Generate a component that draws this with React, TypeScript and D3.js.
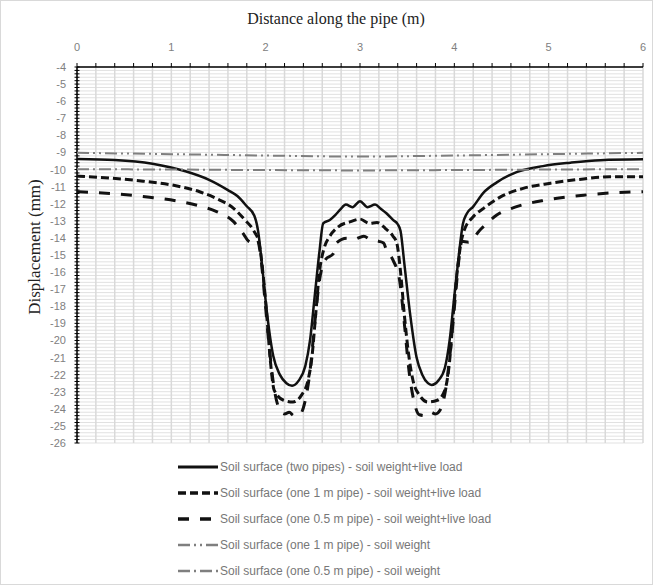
import * as d3 from 'd3';
import React from 'react';

const width = 653;
const height = 585;
const margin = { top: 67, right: 10, bottom: 142, left: 77 };

// axis ticks
const xTicks = [0, 1, 2, 3, 4, 5, 6];
const yTicks = d3.range(-4, -27, -1);

// Soil surface (two pipes) - soil weight+live load
const twoPipesX = [0, 0.4, 0.8, 1.15, 1.4, 1.6, 1.7, 1.8, 1.88, 1.92, 1.96, 2.01, 2.08, 2.15, 2.22, 2.28, 2.35, 2.42, 2.47, 2.52, 2.57, 2.61, 2.68, 2.74, 2.79, 2.85, 2.92, 3.0, 3.08, 3.16, 3.22, 3.28, 3.35, 3.4, 3.43, 3.47, 3.53, 3.6, 3.66, 3.72, 3.76, 3.83, 3.9, 3.95, 4.0, 4.05, 4.09, 4.13, 4.2, 4.31, 4.45, 4.66, 4.94, 5.23, 5.55, 6.0];
const twoPipesY = [-9.38, -9.44, -9.66, -10.1, -10.6, -11.2, -11.55, -12.15, -12.7, -13.6, -15.5, -18.2, -20.9, -22.0, -22.5, -22.65, -22.35, -21.5, -20.0, -17.4, -14.8, -13.15, -12.95, -12.65, -12.35, -12.05, -12.2, -11.85, -12.2, -12.05, -12.3, -12.56, -12.95, -13.2, -13.6, -15.5, -18.4, -21.0, -22.0, -22.5, -22.6, -22.35, -21.6, -20.0, -17.4, -14.9, -13.2, -12.6, -12.17, -11.35, -10.75, -10.15, -9.8, -9.6, -9.45, -9.4];

// Soil surface (one 1 m pipe) - soil weight+live load
const oneMeterX = [0, 0.35, 0.7, 1.06, 1.3, 1.48, 1.66, 1.78, 1.87, 1.93, 1.97, 2.01, 2.05, 2.09, 2.19, 2.29, 2.38, 2.45, 2.49, 2.53, 2.57, 2.62, 2.68, 2.77, 2.9, 3.0, 3.1, 3.18, 3.27, 3.35, 3.39, 3.43, 3.47, 3.52, 3.56, 3.63, 3.72, 3.82, 3.9, 3.95, 3.99, 4.03, 4.07, 4.1, 4.2, 4.31, 4.49, 4.73, 5.02, 5.37, 5.65, 6.0];
const oneMeterY = [-10.38, -10.5, -10.68, -10.96, -11.3, -11.7, -12.27, -12.95, -13.55, -14.3, -16.0, -18.4, -21.2, -22.9, -23.5, -23.6, -23.2, -22.3, -21.0, -18.5, -16.0, -14.6, -13.9, -13.35, -13.05, -12.9, -13.15, -13.1, -13.45, -13.9, -14.3, -16.0, -18.5, -21.0, -22.3, -23.2, -23.6, -23.5, -22.9, -21.2, -18.4, -16.0, -14.3, -13.63, -12.76, -12.27, -11.6, -11.1, -10.8, -10.55, -10.42, -10.42];

// Soil surface (one 0.5 m pipe) - soil weight+live load
const halfMeterX = [0, 0.35, 0.77, 1.06, 1.3, 1.48, 1.66, 1.76, 1.82, 1.87, 1.91, 1.95, 1.99, 2.04, 2.09, 2.15, 2.2, 2.25, 2.3, 2.36, 2.42, 2.47, 2.52, 2.57, 2.63, 2.72, 2.75, 2.86, 2.93, 3.04, 3.11, 3.2, 3.25, 3.28, 3.35, 3.42, 3.47, 3.52, 3.57, 3.63, 3.7, 3.75, 3.8, 3.85, 3.91, 3.96, 4.01, 4.05, 4.08, 4.15, 4.27, 4.45, 4.66, 4.98, 5.37, 5.72, 6.0];
const halfMeterY = [-11.3, -11.4, -11.62, -11.84, -12.13, -12.46, -13.05, -13.73, -14.2, -14.3, -14.1, -15.2, -17.5, -20.5, -22.8, -24.07, -24.3, -24.2, -24.4, -24.35, -23.5, -21.8, -19.0, -16.5, -15.3, -14.9, -14.3, -14.02, -14.1, -13.9, -14.1, -14.2, -14.3, -14.7, -15.3, -16.5, -19.0, -21.8, -23.5, -24.35, -24.4, -24.2, -24.3, -24.07, -22.8, -20.5, -17.5, -15.2, -14.2, -14.25, -13.55, -12.66, -12.17, -11.78, -11.5, -11.35, -11.3];

// Soil surface (one 1 m pipe) - soil weight
const oneMeterSoilX = [0, 1, 2, 3, 4, 5, 6];
const oneMeterSoilY = [-9.02, -9.1, -9.18, -9.24, -9.18, -9.1, -9.02];

// Soil surface (one 0.5 m pipe) - soil weight
const halfMeterSoilX = [0, 1, 2, 3, 4, 5, 6];
const halfMeterSoilY = [-9.98, -10.0, -10.03, -10.05, -10.03, -10.0, -9.98];

const seriesNames = [
  'Soil surface (two pipes) - soil weight+live load',
  'Soil surface (one 1 m pipe) - soil weight+live load',
  'Soil surface (one 0.5 m pipe) - soil weight+live load',
  'Soil surface (one 1 m pipe) - soil weight',
  'Soil surface (one 0.5 m pipe) - soil weight',
];

const series = [
  { name: seriesNames[0], xs: twoPipesX, ys: twoPipesY, color: '#111', w: 2.5, dash: '' },
  { name: seriesNames[1], xs: oneMeterX, ys: oneMeterY, color: '#111', w: 3, dash: '8,4' },
  { name: seriesNames[2], xs: halfMeterX, ys: halfMeterY, color: '#111', w: 3, dash: '11,11' },
  { name: seriesNames[3], xs: oneMeterSoilX, ys: oneMeterSoilY, color: '#7f7f7f', w: 2, dash: '12,4,2,4,2,4' },
  { name: seriesNames[4], xs: halfMeterSoilX, ys: halfMeterSoilY, color: '#7f7f7f', w: 2, dash: '12,4,2,4' },
];

const App = () => {
  const x = d3.scaleLinear().domain([0, 6]).range([margin.left, width - margin.right]);
  const y = d3.scaleLinear().domain([-4, -26]).range([margin.top, height - margin.bottom]);

  const hGrid = d3.range(0, 111).map(i => -4 - i * 0.2);
  const vGrid = d3.range(0, 31).map(i => i * 0.2);

  const line = d3.line<[number, number]>()
    .x(d => x(d[0]))
    .y(d => y(d[1]))
    .curve(d3.curveMonotoneX);

  const tickFont = 'Liberation Sans, Arial, sans-serif';
  const titleFont = 'Liberation Serif, Times New Roman, serif';

  return (
    <svg width={width} height={height} style={{ position: 'absolute', left: 0, top: 0, background: '#fff' }}>
      <rect x={0.5} y={0.5} width={width - 1} height={height - 1} fill="#fff" stroke="#d9d9d9" />

      {/* grid */}
      {hGrid.map((v, i) => (
        <line key={'h' + i} x1={x(0)} x2={x(6)} y1={y(v)} y2={y(v)} stroke="#e1e1e1" strokeWidth={1} />
      ))}
      {vGrid.map((v, i) => (
        <line key={'v' + i} x1={x(v)} x2={x(v)} y1={y(-4)} y2={y(-26)} stroke="#d9d9d9" strokeWidth={1.5} />
      ))}

      {/* top axis */}
      <line x1={x(0)} x2={x(6)} y1={y(-4)} y2={y(-4)} stroke="#000" strokeWidth={1.5} />
      {vGrid.map((v, i) => (
        <line key={'tx' + i} x1={x(v)} x2={x(v)} y1={y(-4)} y2={y(-4) - 4} stroke="#000" strokeWidth={1} />
      ))}
      {xTicks.map(t => (
        <text key={'xl' + t} x={x(t)} y={51} textAnchor="middle" fontFamily={tickFont} fontSize={11} fill="#808080">{t}</text>
      ))}

      {/* left axis */}
      <line x1={x(0)} x2={x(0)} y1={y(-4)} y2={y(-26)} stroke="#000" strokeWidth={1.5} />
      {hGrid.map((v, i) => (
        <line key={'ty' + i} x1={x(0) - 2.5} x2={x(0) + 2.5} y1={y(v)} y2={y(v)} stroke="#000" strokeWidth={1} />
      ))}
      {yTicks.map(t => (
        <text key={'yl' + t} x={66} y={y(t) + 4} textAnchor="end" fontFamily={tickFont} fontSize={11} fill="#808080">{t}</text>
      ))}

      {/* titles */}
      <text x={336} y={24} textAnchor="middle" fontFamily={titleFont} fontSize={16} fill="#222">Distance along the pipe (m)</text>
      <text transform={`translate(40,247) rotate(-90)`} textAnchor="middle" fontFamily={titleFont} fontSize={17} fill="#222">Displacement (mm)</text>

      {/* series */}
      {series.map(s => (
        <path key={s.name} d={line(s.xs.map((xv, i) => [xv, s.ys[i]] as [number, number])) || ''}
          fill="none" stroke={s.color} strokeWidth={s.w} strokeDasharray={s.dash || undefined}
          strokeLinejoin="round" />
      ))}

      {/* legend */}
      {series.map((s, i) => (
        <g key={'lg' + i} transform={`translate(178,${467 + i * 26})`}>
          <line x1={0} x2={40} y1={0} y2={0} stroke={s.color} strokeWidth={s.w + 0.5} strokeDasharray={s.dash || undefined} />
          <text x={42} y={4} fontFamily={tickFont} fontSize={12} fill="#777">{s.name}</text>
        </g>
      ))}
    </svg>
  );
};

export default App;
